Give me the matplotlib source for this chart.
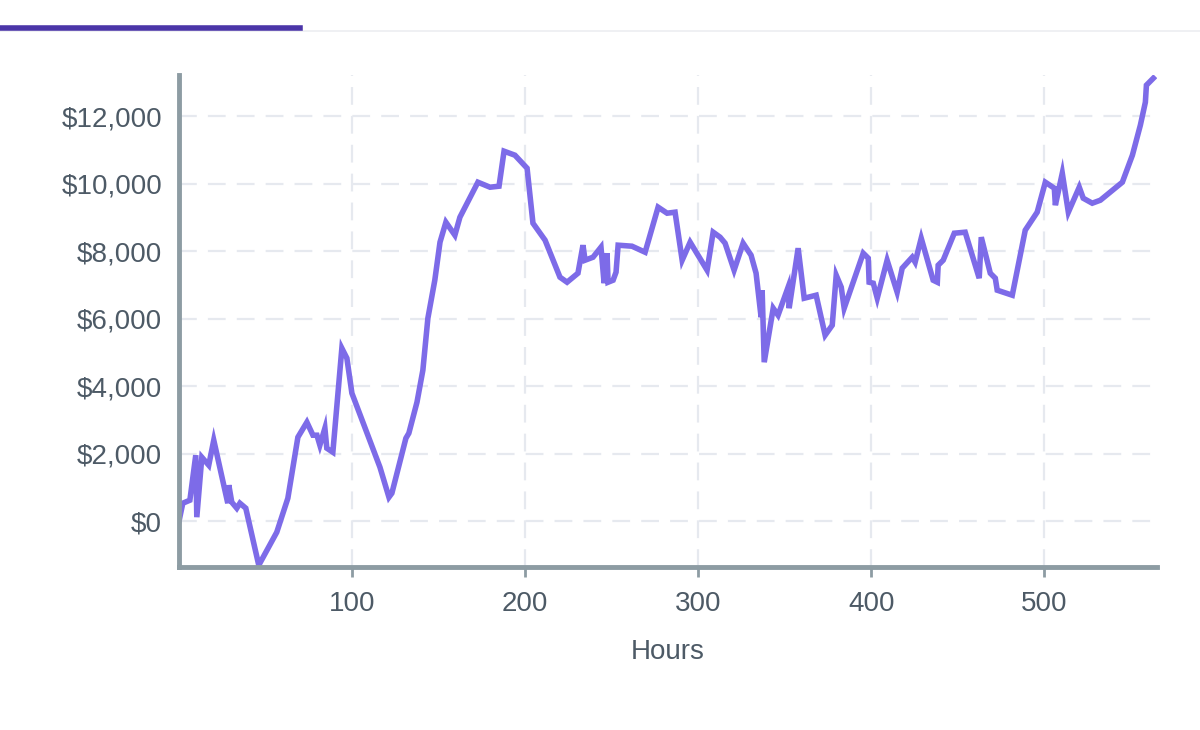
import matplotlib
matplotlib.use("Agg")
import matplotlib.pyplot as plt
import matplotlib.ticker as mticker
from matplotlib.lines import Line2D

# cumulative profit over time
hours = [0, 2.3, 6.4, 9.8, 10.4, 13.3, 17.3, 20.2, 28.3, 28.9, 30.6, 33.5, 35.3, 38.7,
         46.2, 56.6, 63, 68.8, 74, 77.5, 79.8, 81.5, 84.4, 85.5, 89, 94.2, 97.1, 100,
         116.2, 121.4, 123.1, 131.2, 132.9, 137.6, 141, 143.9, 147.9, 150.9, 154.3,
         159.5, 162.4, 172.8, 179.8, 185, 187.9, 194.2, 201.2, 204.6, 211.6, 220.2,
         224.3, 230.6, 233.5, 234.7, 239.3, 243.9, 245.7, 247.4, 248, 250.9, 252.6,
         253.8, 261.8, 269.4, 276.9, 282.1, 286.7, 290.8, 295.4, 305.2, 308.7, 312.7,
         315.6, 320.8, 326, 330.6, 333.5, 336.4, 337, 338.2, 343.4, 346.2, 352, 352.6,
         357.8, 361.3, 368.2, 373.4, 377.5, 379.8, 382.7, 384.4, 395.4, 398.3, 398.8,
         401.2, 403.5, 409.2, 415, 417.9, 423.7, 425.4, 428.9, 435.8, 438.2, 438.7,
         441.6, 448, 454.3, 462.4, 463.6, 468.8, 471.7, 472.8, 481.5, 489, 495.9,
         500.6, 505.8, 506.4, 510.4, 513.9, 520.2, 522.5, 527.7, 532.4, 545.1, 550.9,
         555.5, 558.4, 559, 563]
profit = [-30, 533, 622, 1956, 119, 1896, 1659, 2400, 533, 1067, 563, 385, 533, 385,
          -1304, -326, 681, 2489, 2933, 2548, 2548, 2252, 2756, 2163, 2044, 5125, 4830, 3793,
          1600, 711, 830, 2459, 2607, 3526, 4474, 6015, 7141, 8267, 8859,
          8474, 9007, 10044, 9896, 9926, 10963, 10844, 10459, 8830, 8326, 7230,
          7081, 7348, 8178, 7733, 7822, 8119, 7052, 7941, 7081, 7141, 7378,
          8178, 8148, 7970, 9304, 9126, 9156, 7733, 8267, 7437, 8563, 8415,
          8237, 7437, 8237, 7882, 7348, 6045, 6845, 4711, 6311, 6104, 6933, 6311,
          8089, 6607, 6696, 5511, 5807, 7289, 6933, 6311, 7941, 7793, 7081,
          7052, 6607, 7733, 6785, 7496, 7822, 7674, 8385, 7141, 7081, 7585,
          7733, 8533, 8563, 7200, 8415, 7348, 7200, 6845, 6696, 8622, 9156,
          10044, 9867, 9363, 10311, 9156, 9896, 9570, 9422, 9511, 10044, 10844,
          11733, 12415, 12919, 13126]
x_ticks = [100, 200, 300, 400, 500]
y_ticks = [0, 2000, 4000, 6000, 8000, 10000, 12000]

plt.rcParams["font.family"] = ["Liberation Sans", "DejaVu Sans"]
text_col = "#4d5a66"
spine_col = "#8d9ca3"

fig = plt.figure(figsize=(12, 7.3), dpi=100)
ax = fig.add_axes([0.149, 0.223, 0.815, 0.674])

ax.plot(hours, profit, color="#7d6be8", linewidth=4, solid_joinstyle="miter")

ax.set_xlim(0, 565)
ax.set_ylim(-1363, 13215)
ax.set_xticks(x_ticks)
ax.set_yticks(y_ticks)
ax.yaxis.set_major_formatter(mticker.FuncFormatter(lambda v, _: f"${v:,.0f}"))
ax.grid(True, color="#e6e9ef", linestyle=(0, (8, 5)), linewidth=1.6)
ax.set_axisbelow(True)

for side in ["top", "right"]:
    ax.spines[side].set_visible(False)
for side in ["left", "bottom"]:
    ax.spines[side].set_color(spine_col)
    ax.spines[side].set_linewidth(3.5)
ax.tick_params(axis="x", length=7, width=2, color=spine_col, labelsize=20,
               labelcolor=text_col, pad=10)
ax.tick_params(axis="y", length=0, labelsize=20, labelcolor=text_col, pad=12)
ax.set_xlabel("Hours", fontsize=20, color=text_col, labelpad=16)

# header bar
fig.add_artist(Line2D([0, 1], [0.958, 0.958], color="#eceef1", linewidth=1.2))
fig.add_artist(Line2D([0, 0.25], [0.961, 0.961], color="#4b35a8", linewidth=4))

fig.savefig("out.png", dpi=100, facecolor="white")
